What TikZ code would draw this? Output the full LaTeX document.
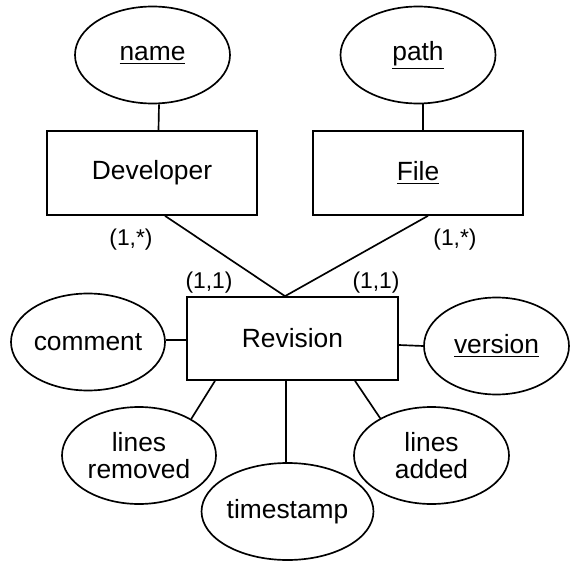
\documentclass[tikz,border=0pt]{standalone}
\usepackage{fontspec}
\setmainfont{Liberation Sans}
\usetikzlibrary{shapes.geometric}
\tikzset{
  entity/.style={draw, rectangle, line width=0.95pt, minimum width=4.2cm,
                 minimum height=1.68cm, inner sep=0pt, align=center},
  attr/.style={draw, ellipse, line width=0.95pt, minimum width=3.1cm,
               minimum height=1.94cm, inner sep=0pt, align=center},
  card/.style={font=\fontsize{13}{14}\selectfont, inner sep=0pt},
  conn/.style={line width=0.95pt},
}

\begin{document}
\begin{tikzpicture}[font=\fontsize{15}{15.5}\selectfont]
\useasboundingbox (0,0) rectangle (11.4,11.22);

% entities
\node[entity] (dev) at (3.04,7.76) {Developer};
\node[entity] (file) at (8.36,7.76) {\underline{File}};
\node[entity, minimum width=4.22cm, minimum height=1.66cm] (rev) at (5.85,4.45) {Revision};

% attributes
\node[attr] (name) at (3.05,10.12) {\underline{name}};
\node[attr] (path) at (8.36,10.12) {\underline{path}};
\node[attr, minimum width=3.08cm] (comment) at (1.76,4.38) {comment};
\node[attr, minimum width=2.9cm] (version) at (9.93,4.30) {\underline{version}};
\node[attr, minimum width=3.08cm] (removed) at (2.78,2.11) {lines\\removed};
\node[attr] (added) at (8.63,2.11) {lines\\added};
\node[attr] (stamp) at (5.75,0.99) {timestamp};

% cardinalities
\node[card] (cdev) at (2.62,6.42) {(1,*)};
\node[card] (cfile) at (9.10,6.42) {(1,*)};
\node[card] (crevl) at (4.18,5.56) {(1,1)};
\node[card] (crevr) at (7.52,5.56) {(1,1)};

% links
\coordinate (revtop) at ([xshift=-0.15cm]rev.north);
\coordinate (revbot) at ([xshift=-0.13cm]rev.south);
\draw[conn] ([xshift=0.13cm]name.south) -- ([xshift=0.13cm]dev.north);
\draw[conn] ([xshift=0.1cm]path.south) -- ([xshift=0.1cm]file.north);
\draw[conn] ([xshift=0.26cm]dev.south) -- (revtop);
\draw[conn] ([xshift=0.2cm]file.south) -- (revtop);
\draw[conn] ([yshift=-0.03cm]rev.west) -- ([yshift=-0.03cm]rev.west -| comment.east);
\draw[conn] ([yshift=-0.13cm]rev.east) -- (version.west);
\draw[conn] ([xshift=-1.55cm]rev.south) -- (removed.35);
\draw[conn] ([xshift=1.25cm]rev.south) -- (added.144);
\draw[conn] (revbot) -- (revbot |- stamp.north);

\end{tikzpicture}
\end{document}
